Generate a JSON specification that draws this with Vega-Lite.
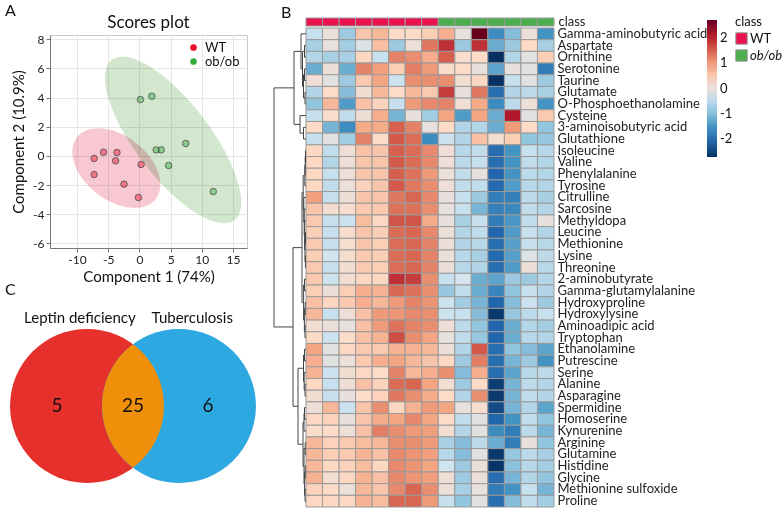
{
  "$schema": "https://vega.github.io/schema/vega-lite/v6.json",
  "padding": {"left": 5, "top": 2, "right": 2, "bottom": 3},
  "background": "white",
  "config": {
    "font": "Lato",
    "view": {"stroke": null},
    "title": {"font": "Lato", "fontWeight": "normal", "color": "#111"},
    "axis": {"labelFont": "Lato", "titleFont": "Lato", "titleFontWeight": "normal", "labelColor": "#222", "titleColor": "#111"},
    "legend": {"labelFont": "Lato", "titleFont": "Lato", "titleFontWeight": "normal", "labelColor": "#111", "titleColor": "#111"},
    "text": {"font": "Lato"}
  },
  "datasets": {
    "scores": [
      {"group": "WT", "c1": -7.26, "c2": -0.18},
      {"group": "WT", "c1": -5.75, "c2": 0.25},
      {"group": "WT", "c1": -3.6, "c2": 0.23},
      {"group": "WT", "c1": -3.82, "c2": -0.34},
      {"group": "WT", "c1": -7.26, "c2": -1.28},
      {"group": "WT", "c1": -2.47, "c2": -1.94},
      {"group": "WT", "c1": -0.16, "c2": -2.86},
      {"group": "WT", "c1": 0.27, "c2": -0.59},
      {"group": "ob/ob", "c1": 0.16, "c2": 3.86},
      {"group": "ob/ob", "c1": 1.99, "c2": 4.09},
      {"group": "ob/ob", "c1": 2.69, "c2": 0.41},
      {"group": "ob/ob", "c1": 3.49, "c2": 0.41},
      {"group": "ob/ob", "c1": 4.68, "c2": -0.66},
      {"group": "ob/ob", "c1": 7.42, "c2": 0.85},
      {"group": "ob/ob", "c1": 11.83, "c2": -2.45}
    ],
    "hm": [
      {"m": "Gamma-aminobutyric acid", "WT1": -0.4, "WT2": 0.05, "WT3": -0.8, "WT4": 0.55, "WT5": 0.7, "WT6": 0.3, "WT7": 0.3, "WT8": 0.45, "ob1": 0.8, "ob2": 0.0, "ob3": 2.7, "ob4": -1.6, "ob5": -1.0, "ob6": 0.05, "ob7": -1.5},
      {"m": "Aspartate", "WT1": -0.7, "WT2": 0.0, "WT3": -0.75, "WT4": -0.15, "WT5": 0.6, "WT6": -0.8, "WT7": 0.05, "WT8": 1.3, "ob1": 1.9, "ob2": -0.8, "ob3": 1.9, "ob4": -1.2, "ob5": -0.8, "ob6": 0.3, "ob7": -0.7},
      {"m": "Ornithine", "WT1": -0.6, "WT2": -0.7, "WT3": -0.7, "WT4": 0.35, "WT5": -0.4, "WT6": 1.2, "WT7": 1.1, "WT8": 0.8, "ob1": 1.5, "ob2": 0.2, "ob3": 0.3, "ob4": -2.7, "ob5": -0.6, "ob6": -0.1, "ob7": 0.45},
      {"m": "Serotonine", "WT1": -1.2, "WT2": 0.05, "WT3": -1.2, "WT4": 1.2, "WT5": 0.95, "WT6": 0.45, "WT7": 1.25, "WT8": 1.0, "ob1": 0.25, "ob2": 0.3, "ob3": 0.0, "ob4": -1.3, "ob5": 0.0, "ob6": -0.05, "ob7": -1.8},
      {"m": "Taurine", "WT1": 0.1, "WT2": -0.1, "WT3": -0.8, "WT4": 0.5, "WT5": 0.9, "WT6": -0.35, "WT7": 1.1, "WT8": 1.1, "ob1": 1.1, "ob2": 0.15, "ob3": 0.35, "ob4": -2.7, "ob5": -0.4, "ob6": -0.1, "ob7": -0.8},
      {"m": "Glutamate", "WT1": -0.6, "WT2": 0.3, "WT3": -1.0, "WT4": 0.15, "WT5": 0.7, "WT6": 0.3, "WT7": 0.7, "WT8": 0.5, "ob1": 1.8, "ob2": 0.0, "ob3": 1.3, "ob4": -2.0, "ob5": -0.6, "ob6": -0.5, "ob7": -0.7},
      {"m": "O-Phosphoethanolamine", "WT1": -0.9, "WT2": 0.7, "WT3": -1.4, "WT4": 0.6, "WT5": 0.4, "WT6": -0.4, "WT7": 1.0, "WT8": 1.15, "ob1": 1.2, "ob2": 0.1, "ob3": 0.85, "ob4": -1.6, "ob5": -0.5, "ob6": 0.05, "ob7": -1.5},
      {"m": "Cysteine", "WT1": -0.4, "WT2": 0.25, "WT3": -0.45, "WT4": 0.1, "WT5": 0.8, "WT6": -1.1, "WT7": 0.0, "WT8": -0.75, "ob1": 0.9, "ob2": -1.4, "ob3": 0.9, "ob4": -1.2, "ob5": 2.1, "ob6": -0.05, "ob7": 0.5},
      {"m": "3-aminoisobutyric acid", "WT1": 0.3, "WT2": -1.1, "WT3": -1.6, "WT4": 0.85, "WT5": 0.85, "WT6": 1.5, "WT7": 1.2, "WT8": 0.0, "ob1": 0.3, "ob2": -0.6, "ob3": -0.6, "ob4": -1.2, "ob5": 1.0, "ob6": 0.3, "ob7": -0.9},
      {"m": "Glutathione", "WT1": -0.4, "WT2": -0.05, "WT3": -0.75, "WT4": 1.2, "WT5": 0.3, "WT6": 1.55, "WT7": 1.4, "WT8": -1.6, "ob1": -0.35, "ob2": -0.6, "ob3": 0.6, "ob4": 0.15, "ob5": 0.45, "ob6": -0.9, "ob7": -0.85},
      {"m": "Isoleucine", "WT1": 0.35, "WT2": -0.45, "WT3": 0.1, "WT4": 0.6, "WT5": 0.55, "WT6": 1.5, "WT7": 1.4, "WT8": 1.15, "ob1": 0.1, "ob2": -0.55, "ob3": -0.45, "ob4": -2.0, "ob5": -1.5, "ob6": -0.4, "ob7": -0.55},
      {"m": "Valine", "WT1": 0.35, "WT2": -0.6, "WT3": 0.1, "WT4": 0.55, "WT5": 0.55, "WT6": 1.55, "WT7": 1.4, "WT8": 1.15, "ob1": 0.1, "ob2": -0.5, "ob3": -0.4, "ob4": -2.0, "ob5": -1.5, "ob6": -0.45, "ob7": -0.6},
      {"m": "Phenylalanine", "WT1": 0.35, "WT2": -0.4, "WT3": 0.1, "WT4": 0.55, "WT5": 0.55, "WT6": 1.5, "WT7": 1.35, "WT8": 1.0, "ob1": 0.05, "ob2": -0.45, "ob3": 0.0, "ob4": -2.1, "ob5": -1.5, "ob6": -0.5, "ob7": -0.6},
      {"m": "Tyrosine", "WT1": 0.35, "WT2": -0.45, "WT3": 0.05, "WT4": 0.4, "WT5": 0.55, "WT6": 1.55, "WT7": 1.3, "WT8": 1.1, "ob1": 0.1, "ob2": -0.45, "ob3": -0.45, "ob4": -2.05, "ob5": -1.4, "ob6": -0.55, "ob7": -0.6},
      {"m": "Citrulline", "WT1": 0.95, "WT2": -0.4, "WT3": 0.1, "WT4": 0.55, "WT5": 0.55, "WT6": 1.3, "WT7": 1.45, "WT8": 1.15, "ob1": 0.0, "ob2": -0.4, "ob3": -0.8, "ob4": -1.8, "ob5": -1.75, "ob6": -0.5, "ob7": -0.7},
      {"m": "Sarcosine", "WT1": 0.55, "WT2": 0.15, "WT3": 0.2, "WT4": 0.5, "WT5": 0.5, "WT6": 1.35, "WT7": 1.35, "WT8": 1.1, "ob1": 0.0, "ob2": -0.4, "ob3": -1.1, "ob4": -1.75, "ob5": -1.65, "ob6": -0.45, "ob7": -0.6},
      {"m": "Methyldopa", "WT1": 0.5, "WT2": -0.4, "WT3": -0.35, "WT4": 0.65, "WT5": 0.35, "WT6": 1.6, "WT7": 1.6, "WT8": 0.85, "ob1": 0.0, "ob2": -0.7, "ob3": -0.4, "ob4": -1.8, "ob5": -1.45, "ob6": -0.45, "ob7": 0.0},
      {"m": "Leucine", "WT1": 0.45, "WT2": -0.4, "WT3": 0.2, "WT4": 0.55, "WT5": 0.45, "WT6": 1.4, "WT7": 1.45, "WT8": 1.15, "ob1": 0.05, "ob2": -0.6, "ob3": -0.45, "ob4": -2.1, "ob5": -1.4, "ob6": -0.4, "ob7": -0.6},
      {"m": "Methionine", "WT1": 0.5, "WT2": -0.4, "WT3": 0.2, "WT4": 0.55, "WT5": 0.45, "WT6": 1.4, "WT7": 1.45, "WT8": 1.2, "ob1": 0.05, "ob2": -0.6, "ob3": -0.55, "ob4": -2.0, "ob5": -1.35, "ob6": -0.4, "ob7": -0.55},
      {"m": "Lysine", "WT1": 0.45, "WT2": -0.3, "WT3": 0.2, "WT4": 0.5, "WT5": 0.45, "WT6": 1.4, "WT7": 1.45, "WT8": 1.2, "ob1": 0.05, "ob2": -0.55, "ob3": -0.7, "ob4": -2.05, "ob5": -1.35, "ob6": -0.15, "ob7": -0.5},
      {"m": "Threonine", "WT1": 0.5, "WT2": -0.4, "WT3": 0.15, "WT4": 0.5, "WT5": 0.45, "WT6": 1.4, "WT7": 1.45, "WT8": 1.2, "ob1": 0.05, "ob2": -0.55, "ob3": -0.6, "ob4": -2.0, "ob5": -1.4, "ob6": 0.05, "ob7": -0.55},
      {"m": "2-aminobutyrate", "WT1": 0.5, "WT2": -0.35, "WT3": 0.15, "WT4": 0.35, "WT5": 0.35, "WT6": 1.9, "WT7": 1.8, "WT8": 1.1, "ob1": -0.4, "ob2": -0.25, "ob3": -1.2, "ob4": -1.3, "ob5": -0.8, "ob6": -0.8, "ob7": -0.6},
      {"m": "Gamma-glutamylalanine", "WT1": 0.45, "WT2": 0.05, "WT3": 0.45, "WT4": 0.8, "WT5": 0.75, "WT6": 1.45, "WT7": 1.35, "WT8": 1.1, "ob1": -0.85, "ob2": -0.45, "ob3": -1.2, "ob4": -1.7, "ob5": -0.9, "ob6": -0.4, "ob7": -0.6},
      {"m": "Hydroxyproline", "WT1": 0.6, "WT2": 0.35, "WT3": 0.5, "WT4": 0.8, "WT5": 0.7, "WT6": 1.0, "WT7": 1.2, "WT8": 1.05, "ob1": -0.35, "ob2": -0.75, "ob3": -1.1, "ob4": -2.1, "ob5": -1.0, "ob6": -0.35, "ob7": -0.8},
      {"m": "Hydroxylysine", "WT1": 0.7, "WT2": -0.4, "WT3": 0.1, "WT4": 0.6, "WT5": 1.0, "WT6": 1.05, "WT7": 1.15, "WT8": 1.1, "ob1": -0.35, "ob2": -0.4, "ob3": -1.0, "ob4": -2.6, "ob5": -0.85, "ob6": -0.5, "ob7": -0.4},
      {"m": "Aminoadipic acid", "WT1": 0.15, "WT2": 0.05, "WT3": 0.0, "WT4": 0.6, "WT5": 1.0, "WT6": 1.35, "WT7": 1.2, "WT8": 1.1, "ob1": 0.1, "ob2": -0.5, "ob3": -0.9, "ob4": -2.1, "ob5": -1.2, "ob6": -0.6, "ob7": -0.75},
      {"m": "Tryptophan", "WT1": 0.3, "WT2": -0.35, "WT3": 0.25, "WT4": 0.6, "WT5": 0.75, "WT6": 1.65, "WT7": 1.1, "WT8": 0.9, "ob1": 0.0, "ob2": -0.45, "ob3": -0.85, "ob4": -2.1, "ob5": -1.2, "ob6": -0.55, "ob7": -0.6},
      {"m": "Ethanolamine", "WT1": 0.9, "WT2": -0.05, "WT3": 0.35, "WT4": 0.5, "WT5": 0.5, "WT6": 0.75, "WT7": 0.75, "WT8": 0.7, "ob1": 0.05, "ob2": -0.6, "ob3": 1.55, "ob4": -2.0, "ob5": -0.9, "ob6": -1.0, "ob7": -1.3},
      {"m": "Putrescine", "WT1": 0.8, "WT2": -0.1, "WT3": 0.05, "WT4": 0.5, "WT5": 0.8, "WT6": 0.9, "WT7": 0.7, "WT8": 0.55, "ob1": 0.35, "ob2": -0.8, "ob3": 1.25, "ob4": -2.0, "ob5": -1.1, "ob6": -0.8, "ob7": -1.5},
      {"m": "Serine", "WT1": 0.75, "WT2": -0.35, "WT3": 0.15, "WT4": 0.35, "WT5": 0.3, "WT6": 1.2, "WT7": 0.7, "WT8": 0.8, "ob1": 1.1, "ob2": -1.0, "ob3": 0.8, "ob4": -2.0, "ob5": -1.3, "ob6": -0.55, "ob7": -0.5},
      {"m": "Alanine", "WT1": 0.35, "WT2": -0.4, "WT3": 0.1, "WT4": 0.6, "WT5": 0.4, "WT6": 1.4, "WT7": 1.45, "WT8": 0.9, "ob1": 0.15, "ob2": -0.8, "ob3": 0.3, "ob4": -2.55, "ob5": -1.1, "ob6": -0.5, "ob7": -0.6},
      {"m": "Asparagine", "WT1": 0.15, "WT2": -0.4, "WT3": 0.0, "WT4": 0.3, "WT5": 0.4, "WT6": 1.3, "WT7": 1.1, "WT8": 0.85, "ob1": 0.3, "ob2": -0.6, "ob3": 1.1, "ob4": -2.6, "ob5": -1.1, "ob6": -0.45, "ob7": -0.6},
      {"m": "Spermidine", "WT1": 0.1, "WT2": 0.7, "WT3": -0.35, "WT4": 0.55, "WT5": 1.1, "WT6": 0.35, "WT7": 0.75, "WT8": 1.0, "ob1": 0.9, "ob2": 0.0, "ob3": 0.2, "ob4": -2.4, "ob5": -1.1, "ob6": -0.6, "ob7": -1.3},
      {"m": "Homoserine", "WT1": 0.35, "WT2": 0.4, "WT3": 0.0, "WT4": 0.55, "WT5": 0.85, "WT6": 0.9, "WT7": 1.15, "WT8": 0.9, "ob1": 0.3, "ob2": -0.45, "ob3": -0.1, "ob4": -2.1, "ob5": -1.5, "ob6": -0.45, "ob7": -0.9},
      {"m": "Kynurenine", "WT1": 0.25, "WT2": 0.3, "WT3": 0.05, "WT4": 0.6, "WT5": 1.25, "WT6": 1.1, "WT7": 1.0, "WT8": 0.95, "ob1": 0.15, "ob2": -0.6, "ob3": -0.05, "ob4": -1.6, "ob5": -1.8, "ob6": -0.5, "ob7": -1.1},
      {"m": "Arginine", "WT1": 0.7, "WT2": 0.4, "WT3": 0.5, "WT4": 0.65, "WT5": 0.7, "WT6": 1.1, "WT7": 1.1, "WT8": 1.0, "ob1": -0.7, "ob2": -1.0, "ob3": -0.5, "ob4": -1.2, "ob5": -1.8, "ob6": 0.0, "ob7": -0.9},
      {"m": "Glutamine", "WT1": 0.7, "WT2": 0.45, "WT3": 0.5, "WT4": 0.75, "WT5": 0.6, "WT6": 1.15, "WT7": 1.05, "WT8": 0.95, "ob1": -0.55, "ob2": -1.0, "ob3": -0.05, "ob4": -2.6, "ob5": -0.85, "ob6": -0.5, "ob7": -0.7},
      {"m": "Histidine", "WT1": 0.7, "WT2": 0.35, "WT3": 0.4, "WT4": 0.65, "WT5": 0.35, "WT6": 1.15, "WT7": 1.05, "WT8": 0.9, "ob1": -0.3, "ob2": -0.8, "ob3": 0.05, "ob4": -2.65, "ob5": -0.95, "ob6": -0.55, "ob7": -0.75},
      {"m": "Glycine", "WT1": 0.75, "WT2": 0.15, "WT3": 0.35, "WT4": 0.75, "WT5": 0.6, "WT6": 1.15, "WT7": 1.05, "WT8": 0.95, "ob1": 0.1, "ob2": -0.8, "ob3": 0.05, "ob4": -2.0, "ob5": -1.1, "ob6": -0.6, "ob7": -0.9},
      {"m": "Methionine sulfoxide", "WT1": 0.4, "WT2": 0.3, "WT3": 0.05, "WT4": 0.7, "WT5": 0.55, "WT6": 1.15, "WT7": 1.45, "WT8": 1.1, "ob1": 0.05, "ob2": -0.7, "ob3": 0.0, "ob4": -1.8, "ob5": -1.5, "ob6": -0.4, "ob7": -1.1},
      {"m": "Proline", "WT1": 0.35, "WT2": 0.35, "WT3": 0.35, "WT4": 0.75, "WT5": 0.65, "WT6": 1.45, "WT7": 1.45, "WT8": 1.0, "ob1": -0.4, "ob2": -0.9, "ob3": -0.05, "ob4": -2.0, "ob5": -1.0, "ob6": -0.45, "ob7": -0.75}
    ],
    "classes": [
      {"sample": "WT1", "class": "WT", "row": "class"},
      {"sample": "WT2", "class": "WT", "row": "class"},
      {"sample": "WT3", "class": "WT", "row": "class"},
      {"sample": "WT4", "class": "WT", "row": "class"},
      {"sample": "WT5", "class": "WT", "row": "class"},
      {"sample": "WT6", "class": "WT", "row": "class"},
      {"sample": "WT7", "class": "WT", "row": "class"},
      {"sample": "WT8", "class": "WT", "row": "class"},
      {"sample": "ob1", "class": "ob/ob", "row": "class"},
      {"sample": "ob2", "class": "ob/ob", "row": "class"},
      {"sample": "ob3", "class": "ob/ob", "row": "class"},
      {"sample": "ob4", "class": "ob/ob", "row": "class"},
      {"sample": "ob5", "class": "ob/ob", "row": "class"},
      {"sample": "ob6", "class": "ob/ob", "row": "class"},
      {"sample": "ob7", "class": "ob/ob", "row": "class"}
    ],
    "dendro": [
      {"h": 1.0, "p1": 5, "h1": 0, "p2": 6, "h2": 0},
      {"h": 1.5, "p1": 3, "h1": 0, "p2": 4, "h2": 0},
      {"h": 2.5, "p1": 3.5, "h1": 1.5, "p2": 5.5, "h2": 1.0},
      {"h": 1.5, "p1": 1, "h1": 0, "p2": 2, "h2": 0},
      {"h": 3.5, "p1": 1.5, "h1": 1.5, "p2": 4.5, "h2": 2.5},
      {"h": 5, "p1": 0, "h1": 0, "p2": 3.0, "h2": 3.5},
      {"h": 2.5, "p1": 8, "h1": 0, "p2": 9, "h2": 0},
      {"h": 6, "p1": 7, "h1": 0, "p2": 8.5, "h2": 2.5},
      {"h": 12, "p1": 1.5, "h1": 5, "p2": 7.75, "h2": 6},
      {"h": 0.5, "p1": 10, "h1": 0, "p2": 11, "h2": 0},
      {"h": 0.8, "p1": 10.5, "h1": 0.5, "p2": 12, "h2": 0},
      {"h": 1.2, "p1": 11.25, "h1": 0.8, "p2": 13, "h2": 0},
      {"h": 0.5, "p1": 17, "h1": 0, "p2": 18, "h2": 0},
      {"h": 0.6, "p1": 19, "h1": 0, "p2": 20, "h2": 0},
      {"h": 1.0, "p1": 17.5, "h1": 0.5, "p2": 19.5, "h2": 0.6},
      {"h": 1.4, "p1": 16, "h1": 0, "p2": 18.5, "h2": 1.0},
      {"h": 1.8, "p1": 15, "h1": 0, "p2": 17.25, "h2": 1.4},
      {"h": 2.2, "p1": 14, "h1": 0, "p2": 16.125, "h2": 1.8},
      {"h": 2.8, "p1": 12.125, "h1": 1.2, "p2": 15.0625, "h2": 2.2},
      {"h": 1.5, "p1": 21, "h1": 0, "p2": 22, "h2": 0},
      {"h": 0.8, "p1": 23, "h1": 0, "p2": 24, "h2": 0},
      {"h": 1.0, "p1": 25, "h1": 0, "p2": 26, "h2": 0},
      {"h": 1.6, "p1": 23.5, "h1": 0.8, "p2": 25.5, "h2": 1.0},
      {"h": 2.4, "p1": 21.5, "h1": 1.5, "p2": 24.5, "h2": 1.6},
      {"h": 4, "p1": 13.59, "h1": 2.8, "p2": 23.0, "h2": 2.4},
      {"h": 1.5, "p1": 27, "h1": 0, "p2": 28, "h2": 0},
      {"h": 1.0, "p1": 30, "h1": 0, "p2": 31, "h2": 0},
      {"h": 1.8, "p1": 29, "h1": 0, "p2": 30.5, "h2": 1.0},
      {"h": 2.5, "p1": 27.5, "h1": 1.5, "p2": 29.75, "h2": 1.8},
      {"h": 1.5, "p1": 32, "h1": 0, "p2": 33, "h2": 0},
      {"h": 2.0, "p1": 32.5, "h1": 1.5, "p2": 34, "h2": 0},
      {"h": 0.8, "p1": 35, "h1": 0, "p2": 36, "h2": 0},
      {"h": 0.8, "p1": 37, "h1": 0, "p2": 38, "h2": 0},
      {"h": 1.0, "p1": 39, "h1": 0, "p2": 40, "h2": 0},
      {"h": 1.4, "p1": 37.5, "h1": 0.8, "p2": 39.5, "h2": 1.0},
      {"h": 2.0, "p1": 35.5, "h1": 0.8, "p2": 38.5, "h2": 1.4},
      {"h": 3.0, "p1": 33.25, "h1": 2.0, "p2": 37, "h2": 2.0},
      {"h": 8, "p1": 28.625, "h1": 2.5, "p2": 35.125, "h2": 3.0},
      {"h": 13, "p1": 18.3, "h1": 4, "p2": 31.875, "h2": 8},
      {"h": 32, "p1": 4.625, "h1": 12, "p2": 25.09, "h2": 13}
    ]
  },
  "hconcat": [
    {
      "vconcat": [
        {
          "width": 197,
          "height": 17,
          "title": {"text": "A", "fontSize": 16, "anchor": "start", "frame": "group", "dx": -45, "offset": -5},
          "data": {"values": [{"t": "Scores plot"}]},
          "mark": {"type": "text", "fontSize": 17, "color": "#111", "dy": -4},
          "encoding": {"text": {"field": "t"}}
        },
        {
          "width": 197,
          "height": 213,
          "view": {"stroke": "#c8c8c8"},
          "encoding": {
            "x": {"field": "c1", "type": "quantitative", "scale": {"domain": [-14.33, 17.24], "nice": false, "zero": false},
              "axis": {"title": "Component 1 (74%)", "values": [-10, -5, 0, 5, 10, 15], "labelExpr": "'' + datum.value", "labelFontSize": 12, "titleFontSize": 15, "gridColor": "#e6e6e6", "tickColor": "#777", "domainColor": "#777", "tickSize": 4, "titlePadding": 4}},
            "y": {"field": "c2", "type": "quantitative", "scale": {"domain": [-6.32, 8.29], "nice": false, "zero": false},
              "axis": {"title": "Component 2 (10.9%)", "values": [-6, -4, -2, 0, 2, 4, 6, 8], "labelExpr": "'' + datum.value", "labelFontSize": 12, "titleFontSize": 15, "gridColor": "#e6e6e6", "tickColor": "#777", "domainColor": "#777", "tickSize": 4, "titlePadding": 6}}
          },
          "layer": [
            {
              "data": {"values": [{"group": "WT", "c1": -3.7, "c2": -0.84}]},
              "mark": {"type": "point", "filled": true, "shape": "M 1 0 C 1 0.3535 0.5523 0.64 0 0.64 C -0.5523 0.64 -1 0.3535 -1 0 C -1 -0.3535 -0.5523 -0.64 0 -0.64 C 0.5523 -0.64 1 -0.3535 1 0 Z", "size": 10000, "angle": 38, "fill": "#f7c8d2", "opacity": 1, "blend": "multiply"}
            },
            {
              "data": {"values": [{"group": "ob/ob", "c1": 5.4, "c2": 1.1}]},
              "mark": {"type": "point", "filled": true, "shape": "M 1 0 C 1 0.2044 0.5523 0.37 0 0.37 C -0.5523 0.37 -1 0.2044 -1 0 C -1 -0.2044 -0.5523 -0.37 0 -0.37 C 0.5523 -0.37 1 -0.2044 1 0 Z", "size": 40804, "angle": 52.6, "fill": "#d3e7cf", "opacity": 1, "blend": "multiply"}
            },
            {
              "data": {"name": "scores"},
              "mark": {"type": "point", "filled": true, "size": 42, "stroke": "#4a4a4a", "strokeWidth": 0.8, "opacity": 1, "fillOpacity": 0.45},
              "encoding": {
                "fill": {"field": "group", "type": "nominal", "scale": {"domain": ["WT", "ob/ob"], "range": ["#e8112d", "#36ad3b"]},
                  "legend": {"orient": "none", "legendX": 137, "legendY": 6, "title": null, "padding": 0, "labelFontSize": 13, "symbolSize": 45, "symbolType": "circle", "symbolOpacity": 1, "symbolStrokeWidth": 0, "rowPadding": 0, "labelOffset": 5,
                    "encode": {"symbols": {"update": {"fillOpacity": {"value": 1}, "strokeWidth": {"value": 0}}}, "labels": {"update": {"fontStyle": {"signal": "datum.label === 'ob/ob' ? 'italic' : 'normal'"}}}}}}
              }
            }
          ]
        },
        {
          "width": 197,
          "height": 242,
          "title": {"text": "C", "fontSize": 16, "anchor": "start", "frame": "group", "dx": -45, "dy": 52, "offset": 2},
          "encoding": {
            "x": {"field": "u", "type": "quantitative", "scale": {"domain": [-1.078, 1.481], "nice": false, "zero": false}, "axis": null},
            "y": {"field": "v", "type": "quantitative", "scale": {"domain": [-1.091, 2.052], "nice": false, "zero": false}, "axis": null}
          },
          "layer": [
            {
              "data": {"values": [{"set": "Leptin deficiency", "u": -0.597, "v": 0}, {"set": "Tuberculosis", "u": 0.597, "v": 0}]},
              "mark": {"type": "point", "filled": true, "shape": "circle", "size": 23716, "opacity": 1},
              "encoding": {"fill": {"field": "set", "type": "nominal", "scale": {"domain": ["Leptin deficiency", "Tuberculosis"], "range": ["#e5302b", "#2ea8e0"]}, "legend": null}}
            },
            {
              "data": {"values": [{"region": "both", "u": 0, "v": 0}]},
              "mark": {"type": "point", "filled": true, "shape": "M 0 -0.801 A 1 1 0 0 1 0 0.801 A 1 1 0 0 1 0 -0.801 Z", "size": 23716, "opacity": 1, "fill": "#f0900a"}
            },
            {
              "data": {"values": [{"u": -0.987, "v": 0, "n": "5"}, {"u": 0, "v": 0, "n": "25"}, {"u": 0.974, "v": 0, "n": "6"}]},
              "mark": {"type": "text", "fontSize": 19, "color": "#111", "align": "center", "baseline": "middle"},
              "encoding": {"text": {"field": "n"}}
            },
            {
              "data": {"values": [{"u": -0.69, "v": 1.14, "t": "Leptin deficiency"}, {"u": 0.77, "v": 1.14, "t": "Tuberculosis"}]},
              "mark": {"type": "text", "fontSize": 15, "color": "#111", "align": "center", "baseline": "middle"},
              "encoding": {"text": {"field": "t"}}
            }
          ]
        }
      ],
      "spacing": 0,
      "bounds": "flush",
      "resolve": {"scale": {"x": "independent", "y": "independent", "fill": "independent", "color": "independent"}, "legend": {"fill": "independent", "color": "independent"}}
    },
    {
      "vconcat": [
        {
          "width": 298,
          "height": 8,
          "title": {"text": "B", "fontSize": 16, "anchor": "start", "frame": "group", "dx": 25, "offset": -5},
          "data": {"name": "classes"},
          "mark": {"type": "rect", "stroke": "#9a9a9a", "strokeWidth": 1},
          "encoding": {
            "x": {"field": "sample", "type": "nominal", "sort": null, "scale": {"range": [50, 298], "paddingInner": 0, "paddingOuter": 0}, "axis": null},
            "y": {"field": "row", "type": "nominal", "scale": {"paddingInner": 0, "paddingOuter": 0}, "axis": {"orient": "right", "title": null, "ticks": false, "domain": false, "labelFontSize": 13, "labelPadding": 4}},
            "color": {"field": "class", "type": "nominal", "scale": {"domain": ["WT", "ob/ob"], "range": ["#e8124f", "#4cae4f"]},
              "legend": {"orient": "none", "legendX": 479, "legendY": -2, "title": "class", "titleFontSize": 13, "titlePadding": 3, "padding": 0, "labelFontSize": 13, "symbolType": "square", "symbolSize": 130, "symbolStrokeColor": "#999", "symbolStrokeWidth": 1, "rowPadding": 0, "labelOffset": 2,
                "encode": {"labels": {"update": {"fontStyle": {"signal": "datum.label === 'ob/ob' ? 'italic' : 'normal'"}}}}}}
          }
        },
        {
          "width": 298,
          "height": 479,
          "layer": [
            {
              "data": {"name": "hm"},
              "transform": [{"fold": ["WT1", "WT2", "WT3", "WT4", "WT5", "WT6", "WT7", "WT8", "ob1", "ob2", "ob3", "ob4", "ob5", "ob6", "ob7"], "as": ["sample", "value"]}],
              "mark": {"type": "rect", "stroke": "#9a9a9a", "strokeWidth": 1},
              "encoding": {
                "x": {"field": "sample", "type": "nominal", "sort": null, "scale": {"range": [50, 298], "paddingInner": 0, "paddingOuter": 0}, "axis": null},
                "y": {"field": "m", "type": "nominal", "sort": null, "scale": {"paddingInner": 0, "paddingOuter": 0}, "axis": {"orient": "right", "title": null, "ticks": false, "domain": false, "labelFontSize": 13, "labelPadding": 3, "labelLimit": 300}},
                "color": {"field": "value", "type": "quantitative",
                  "scale": {"type": "linear", "interpolate": "rgb", "domain": [-2.7, -2.1, -1.5, -0.9, -0.3, 0.3, 0.9, 1.5, 2.1, 2.7], "range": ["#053061", "#2166ac", "#4393c3", "#92c5de", "#d1e5f0", "#fddbc7", "#f4a582", "#d6604d", "#b2182b", "#67001f"]},
                  "legend": {"orient": "none", "legendX": 451, "legendY": -8, "title": null, "direction": "vertical", "gradientLength": 137, "gradientThickness": 10, "values": [-2, -1, 0, 1, 2], "labelExpr": "'' + datum.value", "labelFontSize": 13, "labelOffset": 3, "gradientStrokeWidth": 0, "padding": 0}}
              }
            },
            {
              "data": {"name": "dendro"},
              "layer": [
                {
                  "mark": {"type": "rule", "color": "#444", "strokeWidth": 1},
                  "encoding": {
                    "x": {"field": "h", "type": "quantitative", "scale": {"domain": [0, 32], "range": [50, 18], "nice": false, "zero": false}, "axis": null},
                    "y": {"field": "p1", "type": "quantitative", "scale": {"domain": [-0.5, 40.5], "reverse": true, "nice": false, "zero": false}, "axis": null},
                    "y2": {"field": "p2"}
                  }
                },
                {
                  "mark": {"type": "rule", "color": "#444", "strokeWidth": 1},
                  "encoding": {
                    "x": {"field": "h1", "type": "quantitative", "scale": {"domain": [0, 32], "range": [50, 18], "nice": false, "zero": false}, "axis": null},
                    "x2": {"field": "h"},
                    "y": {"field": "p1", "type": "quantitative", "scale": {"domain": [-0.5, 40.5], "reverse": true, "nice": false, "zero": false}, "axis": null}
                  }
                },
                {
                  "mark": {"type": "rule", "color": "#444", "strokeWidth": 1},
                  "encoding": {
                    "x": {"field": "h2", "type": "quantitative", "scale": {"domain": [0, 32], "range": [50, 18], "nice": false, "zero": false}, "axis": null},
                    "x2": {"field": "h"},
                    "y": {"field": "p2", "type": "quantitative", "scale": {"domain": [-0.5, 40.5], "reverse": true, "nice": false, "zero": false}, "axis": null}
                  }
                }
              ]
            }
          ],
          "resolve": {"scale": {"x": "independent", "y": "independent"}}
        }
      ],
      "spacing": 2,
      "bounds": "flush",
      "resolve": {"scale": {"x": "independent", "y": "independent", "color": "independent"}, "legend": {"color": "independent"}}
    }
  ],
  "spacing": 0,
  "resolve": {"scale": {"x": "independent", "y": "independent", "fill": "independent", "color": "independent"}, "legend": {"fill": "independent", "color": "independent"}}
}
